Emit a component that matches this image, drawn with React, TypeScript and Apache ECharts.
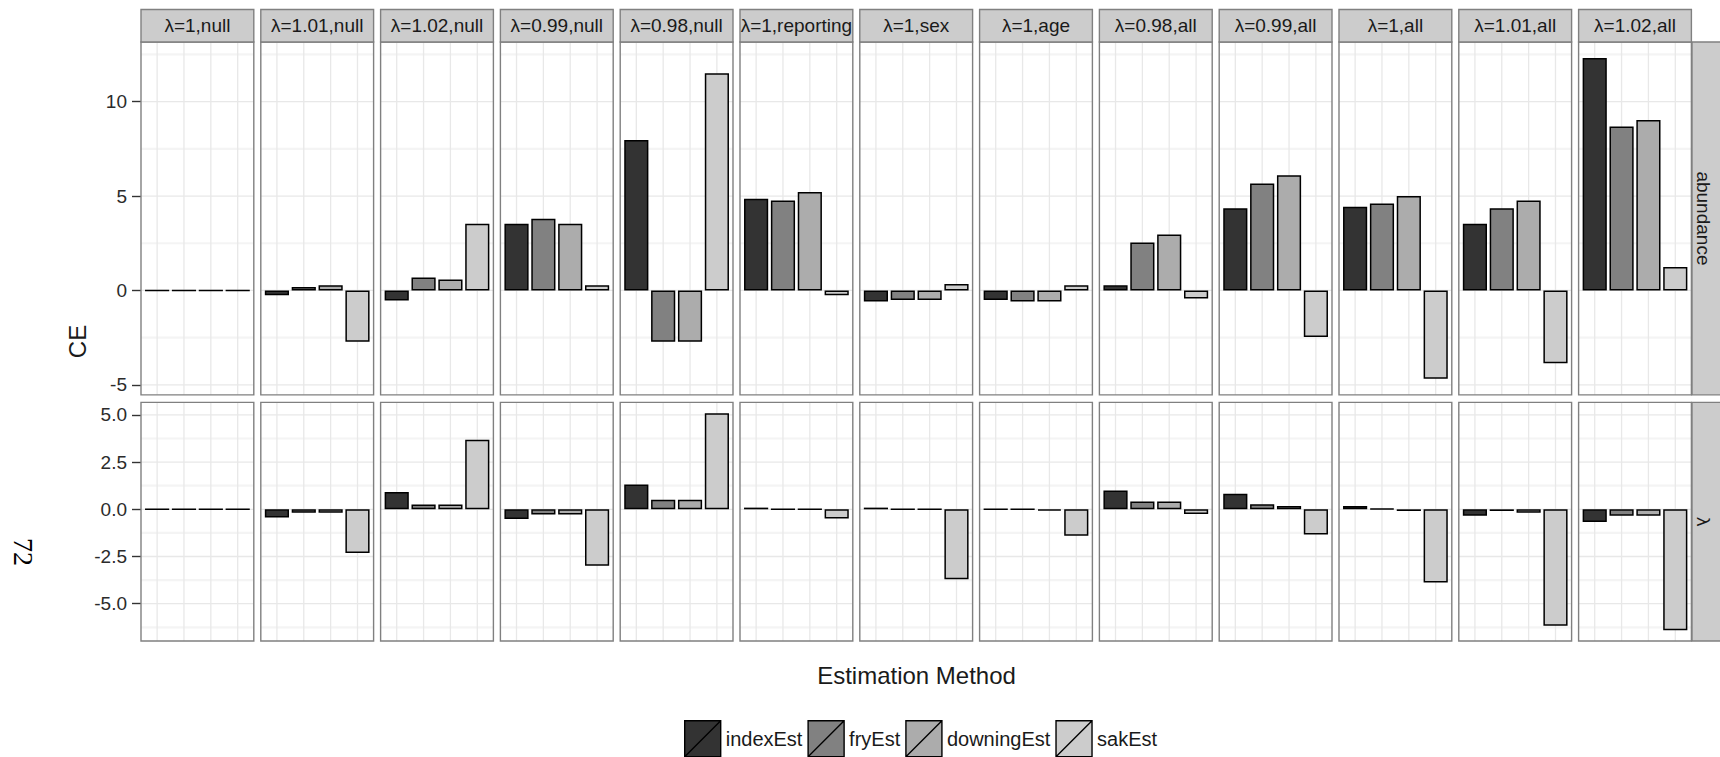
import React, { useEffect, useRef } from "react";
import * as echarts from "echarts";

// ---- data ----
const panels = [
  "λ=1,null", "λ=1.01,null", "λ=1.02,null", "λ=0.99,null", "λ=0.98,null",
  "λ=1,reporting", "λ=1,sex", "λ=1,age", "λ=0.98,all", "λ=0.99,all",
  "λ=1,all", "λ=1.01,all", "λ=1.02,all",
];
const methods = ["indexEst", "fryEst", "downingEst", "sakEst"];
const methodColors = ["#333333", "#818181", "#acacac", "#cccccc"];
const rowLabels = ["abundance", "λ"];

const abundanceIndexEst = [0, -0.25, -0.53, 3.53, 7.97, 4.86, -0.58, -0.51, 0.27, 4.35, 4.43, 3.53, 12.31];
const abundanceFryEst = [0, 0.19, 0.69, 3.8, -2.72, 4.77, -0.51, -0.58, 2.54, 5.67, 4.61, 4.35, 8.69];
const abundanceDowningEst = [0, 0.28, 0.58, 3.53, -2.72, 5.21, -0.51, -0.58, 2.97, 6.1, 5.0, 4.77, 9.03];
const abundanceSakEst = [0, -2.72, 3.53, 0.27, 11.5, -0.25, 0.34, 0.27, -0.42, -2.47, -4.68, -3.85, 1.24];

const lambdaIndexEst = [0, -0.44, 0.92, -0.51, 1.31, 0.09, 0.09, 0, 0.99, 0.83, 0.18, -0.34, -0.67];
const lambdaFryEst = [0, -0.18, 0.25, -0.27, 0.51, 0, 0, 0, 0.42, 0.27, 0.03, -0.09, -0.34];
const lambdaDowningEst = [0, -0.18, 0.25, -0.27, 0.51, 0, 0, -0.07, 0.42, 0.18, -0.09, -0.18, -0.34];
const lambdaSakEst = [0, -2.31, 3.69, -2.99, 5.09, -0.49, -3.71, -1.4, -0.25, -1.33, -3.87, -6.17, -6.4];

const abundanceMajorTicks = [-5, 0, 5, 10];
const abundanceMinorTicks = [-2.5, 2.5, 7.5, 12.5];
const lambdaMajorTicks = [-5, -2.5, 0, 2.5, 5];
const lambdaMinorTicks = [-6.25, -3.75, -1.25, 1.25, 3.75];
const categoryPositions = [1, 2, 3, 4];

const xAxisTitle = "Estimation Method";
const yAxisTitle = "CE";
const pageNumber = "72";

// ---- layout / style ----
const FONT = '"Liberation Sans", Arial, Helvetica, sans-serif';
const panelLeft0 = 141;
const panelPitch = 119.8;
const panelW = 112.8;
const stripTop = 9.5;
const stripH = 32.5;
const rowTop0 = 42;
const rowGap = 7.5;
const rowBottom = 641;
const rightStripX = 1692;
const rightStripW = 30;
const borderColor = "#808080";

function buildOption() {
  const rows = [
    { label: rowLabels[0], values: [abundanceIndexEst, abundanceFryEst, abundanceDowningEst, abundanceSakEst], major: abundanceMajorTicks, minor: abundanceMinorTicks, decimals: 0 },
    { label: rowLabels[1], values: [lambdaIndexEst, lambdaFryEst, lambdaDowningEst, lambdaSakEst], major: lambdaMajorTicks, minor: lambdaMinorTicks, decimals: 1 },
  ];
  const ranges = rows.map((r) => {
    const all = ([] as number[]).concat(...r.values);
    const mn = Math.min(...all);
    const mx = Math.max(...all);
    const pad = 0.05 * (mx - mn);
    return [mn - pad, mx + pad];
  });
  const spans = ranges.map(([a, b]) => b - a);
  const avail = rowBottom - rowTop0 - rowGap;
  const rowH = spans.map((s) => (avail * s) / (spans[0] + spans[1]));
  const rowY = [rowTop0, rowTop0 + rowH[0] + rowGap];
  const xMin = 0.4;
  const xMax = 4.6;
  const barW = (0.9 * panelW) / (xMax - xMin);

  const grid: any[] = [];
  const xAxis: any[] = [];
  const yAxis: any[] = [];
  const series: any[] = [];
  const graphic: any[] = [];

  rows.forEach((row, r) => {
    panels.forEach((p, c) => {
      const g = grid.length;
      const left = panelLeft0 + panelPitch * c;
      grid.push({
        left, top: rowY[r], width: panelW, height: rowH[r],
        show: true, backgroundColor: "#ffffff", borderWidth: 0,
        containLabel: false, outerBoundsMode: "none",
      });
      xAxis.push({ type: "value", gridIndex: g, min: xMin, max: xMax, show: false });
      yAxis.push({
        type: "value", gridIndex: g, min: ranges[r][0], max: ranges[r][1],
        axisLine: { show: false }, splitLine: { show: false },
        axisTick: { show: c === 0, customValues: row.major, length: 9, lineStyle: { color: "#333333", width: 1.4 } },
        axisLabel: {
          show: c === 0, customValues: row.major, margin: 14, color: "#2b2b2b",
          fontSize: 19, fontFamily: FONT,
          formatter: (v: number) => Number(v).toFixed(row.decimals),
        },
      });
      const gl: number[][] = [];
      row.minor.forEach((v) => gl.push([1, v, 1]));
      row.major.forEach((v) => gl.push([1, v, 0]));
      categoryPositions.forEach((k) => gl.push([k, 0, 2]));
      series.push({
        type: "custom", xAxisIndex: g, yAxisIndex: g, z: 1, silent: true, clip: false,
        encode: { x: 0, y: 1 }, data: gl,
        renderItem: (params: any, api: any) => {
          const cs = params.coordSys;
          const kind = api.value(2);
          if (kind === 2) {
            const p2 = api.coord([api.value(0), 0]);
            return { type: "line", shape: { x1: p2[0], y1: cs.y, x2: p2[0], y2: cs.y + cs.height }, style: { stroke: "#e8e8e8", lineWidth: 1.3 } };
          }
          const p1 = api.coord([1, api.value(1)]);
          return {
            type: "line",
            shape: { x1: cs.x, y1: p1[1], x2: cs.x + cs.width, y2: p1[1] },
            style: { stroke: kind === 0 ? "#e8e8e8" : "#f4f4f4", lineWidth: kind === 0 ? 1.3 : 2.2 },
          };
        },
      });
      methods.forEach((m, k) => {
        series.push({
          type: "bar", name: m, xAxisIndex: g, yAxisIndex: g, z: 3, silent: true,
          barWidth: barW, barGap: "-100%",
          data: [[categoryPositions[k], row.values[k][c]]],
          itemStyle: { color: methodColors[k], borderColor: "#000000", borderWidth: 1.5 },
        });
      });
      graphic.push({
        type: "rect", z: 100, silent: true,
        shape: { x: left, y: rowY[r], width: panelW, height: rowH[r] },
        style: { fill: "none", stroke: borderColor, lineWidth: 1.4 },
      });
    });
    // right strip
    graphic.push({
      type: "rect", z: 100, silent: true,
      shape: { x: rightStripX, y: rowY[r], width: rightStripW, height: rowH[r] },
      style: { fill: "#cccccc", stroke: borderColor, lineWidth: 1.4 },
    });
    graphic.push({
      type: "text", z: 101, silent: true,
      x: 1703, y: rowY[r] + rowH[r] / 2, rotation: -Math.PI / 2,
      style: { text: row.label, fill: "#1a1a1a", fontSize: 19, fontFamily: FONT, textAlign: "center", textVerticalAlign: "middle", align: "center", verticalAlign: "middle" },
    });
  });

  panels.forEach((p, c) => {
    const left = panelLeft0 + panelPitch * c;
    graphic.push({
      type: "rect", z: 100, silent: true,
      shape: { x: left, y: stripTop, width: panelW, height: stripH },
      style: { fill: "#cccccc", stroke: borderColor, lineWidth: 1.4 },
    });
    graphic.push({
      type: "text", z: 101, silent: true,
      x: left + panelW / 2, y: stripTop + stripH / 2,
      style: { text: p, fill: "#1a1a1a", fontSize: 19, fontFamily: FONT, textAlign: "center", textVerticalAlign: "middle", align: "center", verticalAlign: "middle" },
    });
  });

  graphic.push({
    type: "text", silent: true, x: 77, y: (rowTop0 + rowBottom) / 2, rotation: Math.PI / 2,
    style: { text: yAxisTitle, fill: "#1a1a1a", fontSize: 24, fontFamily: FONT, textAlign: "center", textVerticalAlign: "middle", align: "center", verticalAlign: "middle" },
  });
  graphic.push({
    type: "text", silent: true, x: (panelLeft0 + rightStripX) / 2, y: 675,
    style: { text: xAxisTitle, fill: "#1a1a1a", fontSize: 24, fontFamily: FONT, textAlign: "center", textVerticalAlign: "middle", align: "center", verticalAlign: "middle" },
  });
  graphic.push({
    type: "text", silent: true, x: 23, y: 552, rotation: -Math.PI / 2,
    style: { text: pageNumber, fill: "#000000", fontSize: 28, fontFamily: '"Liberation Serif", "Times New Roman", serif', textAlign: "center", textVerticalAlign: "middle", align: "center", verticalAlign: "middle" },
  });

  return {
    animation: false,
    backgroundColor: "#ffffff",
    grid, xAxis, yAxis, series, graphic,
    legend: {
      data: methods, left: 684, top: 720, padding: 0,
      itemWidth: 36, itemHeight: 36, itemGap: 5, selectedMode: false,
      icon: "path://M0 0H36V36H0Z M0 36L36 0",
      itemStyle: { borderColor: "#000000", borderWidth: 1.4 },
      textStyle: { fontSize: 20, fontFamily: FONT, color: "#1a1a1a" },
    },
  };
}

export default function App() {
  const ref = useRef<HTMLDivElement>(null);
  useEffect(() => {
    document.body.style.margin = "0";
    const chart = echarts.init(ref.current as HTMLDivElement, null, { renderer: "svg" });
    chart.setOption(buildOption() as any);
    return () => chart.dispose();
  }, []);
  return <div ref={ref} style={{ width: 1720, height: 757, position: "absolute", left: 0, top: 0 }} />;
}
